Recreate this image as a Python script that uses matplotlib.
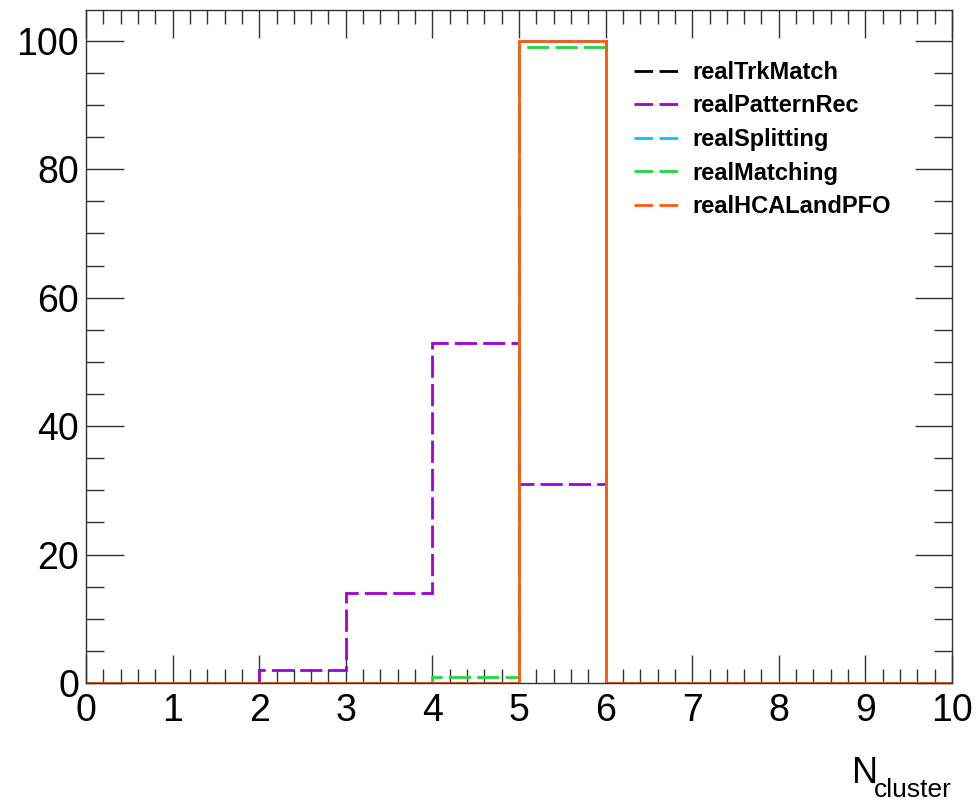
import numpy as np
import matplotlib
matplotlib.use("Agg")
import matplotlib.pyplot as plt
from matplotlib.ticker import MultipleLocator
from matplotlib.lines import Line2D

plt.rcParams['font.family'] = ['Liberation Sans', 'DejaVu Sans']

bin_edges = [0, 1, 2, 3, 4, 5, 6, 7, 8, 9, 10]
series_names = ["realTrkMatch", "realPatternRec", "realSplitting", "realMatching", "realHCALandPFO"]
realTrkMatch = [0, 0, 0, 0, 0, 100, 0, 0, 0, 0]
realPatternRec = [0, 0, 2, 14, 53, 31, 0, 0, 0, 0]
realSplitting = [0, 0, 0, 0, 0, 100, 0, 0, 0, 0]
realMatching = [0, 0, 0, 0, 1, 99, 0, 0, 0, 0]
realHCALandPFO = [0, 0, 0, 0, 0, 100, 0, 0, 0, 0]
colors = ["#000000", "#a000d8", "#00c8f0", "#20d840", "#ff5a14"]

fig = plt.figure(figsize=(9.77, 8.02), dpi=100)
ax = fig.add_axes([86/977, 1-683/802, (952-86)/977, (683-10)/802])

LW = 2.0
DASH = (0, (8, 2.2))
data = [realTrkMatch, realPatternRec, realSplitting, realMatching, realHCALandPFO]
order = [0, 2, 3, 1, 4]
for i in order:
    vals = data[i]
    ls = '-' if i == 4 else DASH
    ax.stairs(vals, bin_edges, color=colors[i], lw=LW, linestyle=ls, baseline=None, zorder=2+i*0.1)

ax.set_xlim(0, 10)
ax.set_ylim(0, 104.8)
ax.xaxis.set_major_locator(MultipleLocator(1))
ax.xaxis.set_minor_locator(MultipleLocator(0.2))
ax.yaxis.set_major_locator(MultipleLocator(20))
ax.yaxis.set_minor_locator(MultipleLocator(5))
ax.tick_params(which='both', direction='in', top=True, right=True, width=1, color='#333333')
ax.tick_params(axis='x', which='major', length=20, labelsize=27, pad=7)
ax.tick_params(axis='x', which='minor', length=10)
ax.tick_params(axis='y', which='major', length=27, labelsize=27, pad=5)
ax.tick_params(axis='y', which='minor', length=13)
for s in ax.spines.values():
    s.set_linewidth(1)
    s.set_color('#333333')

fig.text(852/977, 1-783/802, "N", ha='left', va='baseline', fontsize=26)
fig.text(874/977, 1-797/802, "cluster", ha='left', va='baseline', fontsize=19)

handles = [Line2D([0], [0], color=c, lw=LW, linestyle=(0, (6.7, 2.3))) for c in colors]
leg = ax.legend(handles, series_names, loc='upper left', bbox_to_anchor=(536/866, 1-39/673),
                frameon=False, prop={'weight': 'bold', 'size': 17}, handlelength=2.05,
                labelspacing=0.45, handletextpad=0.45, borderpad=0)

fig.savefig("out.png", dpi=100)
